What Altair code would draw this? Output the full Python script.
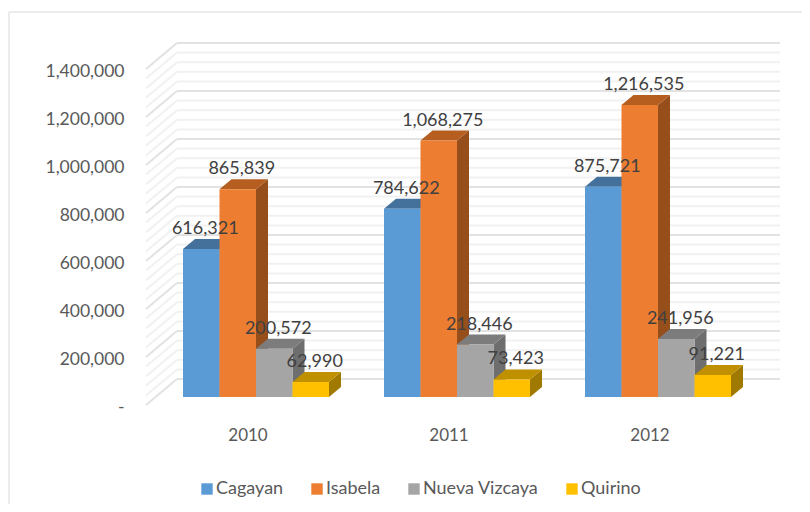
import altair as alt
import pandas as pd

years = [2010, 2011, 2012]
series = ["Cagayan", "Isabela", "Nueva Vizcaya", "Quirino"]
values = {
    "Cagayan": [616321, 784622, 875721],
    "Isabela": [865839, 1068275, 1216535],
    "Nueva Vizcaya": [200572, 218446, 241956],
    "Quirino": [62990, 73423, 91221],
}
front_colors = ["#5B9BD5", "#ED7D31", "#A5A5A5", "#FFC000"]
top_colors = ["#43719C", "#B55E20", "#7C7C7C", "#BF9000"]
side_colors = ["#3A6287", "#964E1B", "#6E6E6E", "#A07A00"]
grid_values = list(range(0, 1400001, 40000))

FONT = "Lato"
W, H = 793, 492
UX = 201.0          # pixels per category
UY = 0.00024        # pixels per value unit
x_dom = [2010 - 238.5 / UX, 2010 + (W - 238.5) / UX]
y_dom = [-99 / UY, 393 / UY]

bar_w = 36.5 / UX
bar_left = -64.5 / UX
depth_x = 12 / UX
depth_y = 10 / UY
base = 8 / UY
back = 26 / UY
wall_front = -101.5 / UX
wall_back = -70.5 / UX
grid_right = 532.5 / UX

x_axis = alt.Axis(values=years, format="d", orient="bottom", offset=-77, labelPadding=0, ticks=False,
                  domain=False, grid=False, labelFont=FONT, labelFontSize=17, labelColor="#595959",
                  labelBaseline="top", title=None)
y_axis = alt.Axis(values=[i * 200000 for i in range(8)], orient="left", offset=-115, labelPadding=0, ticks=False,
                  domain=False, grid=False, labelFont=FONT, labelFontSize=17.5, labelColor="#595959",
                  labelOffset=2,
                  labelExpr="datum.value === 0 ? '-\u00a0\u00a0' : format(datum.value, ',')", title=None)

X = lambda f: alt.X(f, type="quantitative", scale=alt.Scale(domain=x_dom, nice=False, zero=False), axis=x_axis, title=None)
Y = lambda f: alt.Y(f, type="quantitative", scale=alt.Scale(domain=y_dom, nice=False, zero=False), axis=y_axis, title=None)

# Frame
frame_top = alt.Chart(pd.DataFrame({"a": [0]})).mark_rule(color="#ececec", strokeWidth=2).encode(
    x=alt.value(0), x2=alt.value(W), y=alt.value(0))
frame_left = alt.Chart(pd.DataFrame({"a": [0]})).mark_rule(color="#ececec", strokeWidth=2).encode(
    x=alt.value(0), y=alt.value(0), y2=alt.value(H))

# Gridlines on back and side walls
rows = []
for v in grid_values:
    major = v % 200000 == 0
    rows.append(dict(x=2010 + wall_back, x2=2010 + grid_right, y=v + back, y2=v + back, major=major))
    rows.append(dict(x=2010 + wall_front, x2=2010 + wall_back, y=v, y2=v + back, major=major))
grid = pd.DataFrame(rows)

minor = alt.Chart(grid[~grid.major]).mark_rule(color="#f1f1f1", strokeWidth=2).encode(
    x=X("x"), x2="x2", y=Y("y"), y2="y2")
major = alt.Chart(grid[grid.major]).mark_rule(color="#e2e2e2", strokeWidth=2).encode(
    x=X("x"), x2="x2", y=Y("y"), y2="y2")

layers = [frame_top, frame_left, minor, major]
color_enc = alt.Color("series:N", scale=alt.Scale(domain=series, range=front_colors),
                      legend=alt.Legend(orient="none", legendX=189, legendY=468, direction="horizontal",
                                        columns=4, gridAlign="none", columnPadding=24, padding=0, title=None,
                                        symbolType="square", symbolSize=130, symbolStrokeWidth=0,
                                        symbolOpacity=1, labelFont=FONT, labelFontSize=18,
                                        labelColor="#595959", labelOffset=0))

label_rows = []
for si, s in enumerate(series):
    sides, tops, fronts = [], [], []
    for yi, yr in enumerate(years):
        v = values[s][yi]
        x0 = yr + bar_left + si * bar_w
        x1 = x0 + bar_w
        t = v + base
        sides += [dict(g=yr, x=x1, y=t, y2=base), dict(g=yr, x=x1 + depth_x, y=t + depth_y, y2=base + depth_y)]
        tops += [dict(g=yr, x=x0, y=t, y2=t), dict(g=yr, x=x0 + depth_x, y=t + depth_y, y2=t),
                 dict(g=yr, x=x1, y=t + depth_y, y2=t), dict(g=yr, x=x1 + depth_x, y=t + depth_y, y2=t + depth_y)]
        fronts.append(dict(series=s, x=x0, x2=x1, y=t, y2=base))
        label_rows.append(dict(x=(x0 + x1) / 2, y=t, label=f"{v:,}"))
    layers.append(alt.Chart(pd.DataFrame(sides)).mark_area(color=side_colors[si], orient="vertical", opacity=1).encode(
        x=X("x"), y=Y("y"), y2="y2", detail="g:N"))
    layers.append(alt.Chart(pd.DataFrame(tops)).mark_area(color=top_colors[si], orient="vertical", opacity=1).encode(
        x=X("x"), y=Y("y"), y2="y2", detail="g:N"))
    layers.append(alt.Chart(pd.DataFrame(fronts)).mark_rect(opacity=1).encode(
        x=X("x"), x2="x2", y=Y("y"), y2="y2", color=color_enc))

labels = alt.Chart(pd.DataFrame(label_rows)).mark_text(
    font=FONT, fontSize=18, color="#404040", dx=4, dy=-20, baseline="middle", align="center"
).encode(x=X("x"), y=Y("y"), text="label:N")
layers.append(labels)

chart = alt.layer(*layers).properties(
    width=W, height=H,
    padding={"left": 1, "top": 4, "right": 0, "bottom": 0},
    autosize=alt.AutoSizeParams(type="none"),
    background="white",
).configure_view(stroke=None)

chart.save("out.html", embed_options={"renderer": "svg", "actions": False})
